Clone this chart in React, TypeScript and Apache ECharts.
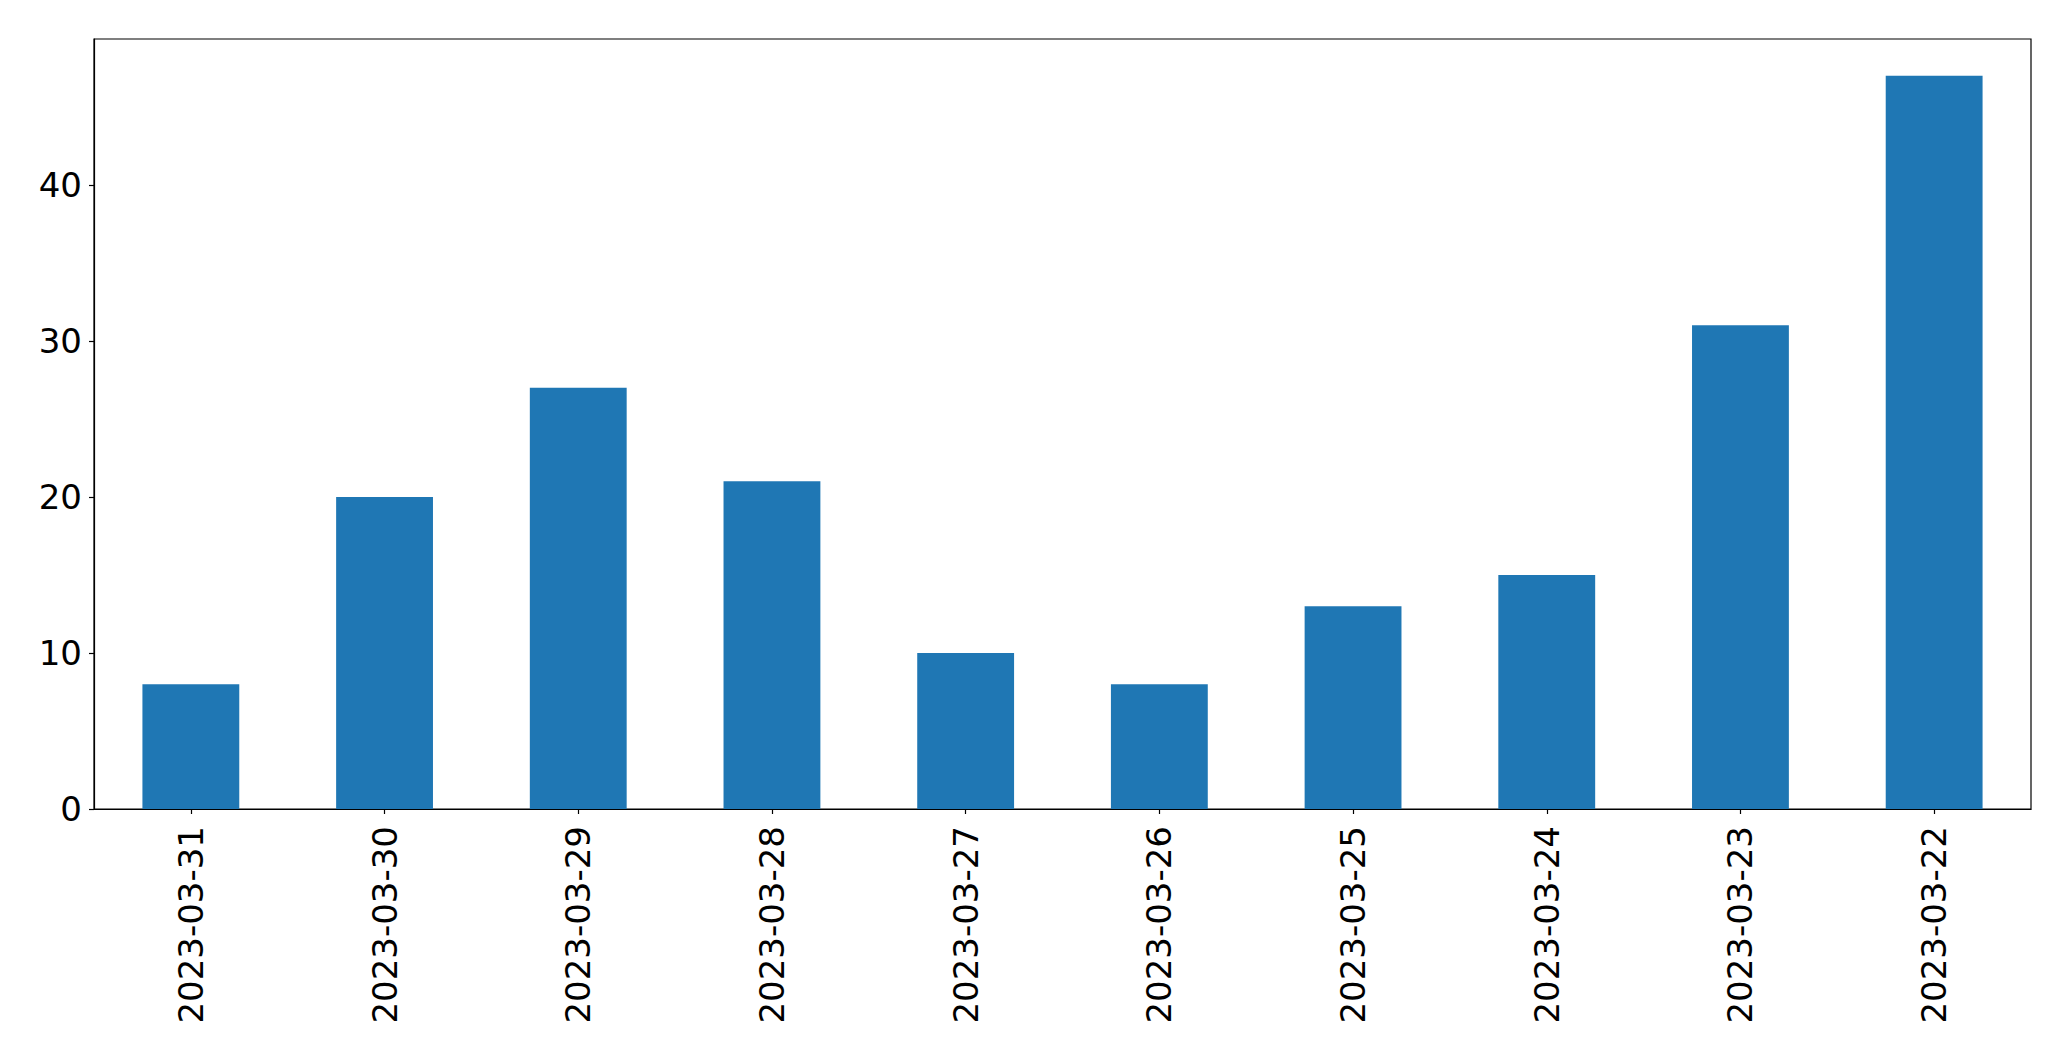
import React, { useEffect, useRef } from "react";
import * as echarts from "echarts";

const categories = [
  "2023-03-31",
  "2023-03-30",
  "2023-03-29",
  "2023-03-28",
  "2023-03-27",
  "2023-03-26",
  "2023-03-25",
  "2023-03-24",
  "2023-03-23",
  "2023-03-22",
];
const values = [8, 20, 27, 21, 10, 8, 13, 15, 31, 47];
const yTicks = [0, 10, 20, 30, 40];

export default function App() {
  const ref = useRef<HTMLDivElement>(null);
  useEffect(() => {
    document.body.style.margin = "0";
    const chart = echarts.init(ref.current!, null, { renderer: "svg" });
    const font = "DejaVu Sans";
    chart.setOption({
      animation: false,
      backgroundColor: "#ffffff",
      grid: {
        left: 94,
        top: 39,
        right: 40,
        bottom: 252,
        show: true,
        borderColor: "#000",
        borderWidth: 1.2,
        containLabel: false,
      },
      xAxis: {
        type: "category",
        data: categories,
        boundaryGap: true,
        axisLine: { show: true, lineStyle: { color: "#000", width: 1.2 } },
        axisTick: { show: true, alignWithLabel: true, length: 5, lineStyle: { color: "#000", width: 1.2 } },
        axisLabel: {
          rotate: 90,
          fontSize: 34,
          fontFamily: font,
          color: "#000",
          margin: 17,
          interval: 0,
        },
        splitLine: { show: false },
      },
      yAxis: {
        type: "value",
        min: 0,
        max: 49.35,
        interval: 10,
        axisLine: { show: true, lineStyle: { color: "#000", width: 1.2 } },
        axisTick: { show: true, length: 5, customValues: yTicks, lineStyle: { color: "#000", width: 1.2 } },
        axisLabel: {
          fontSize: 34,
          fontFamily: font,
          color: "#000",
          margin: 12,
          customValues: yTicks,
        },
        splitLine: { show: false },
      },
      series: [
        {
          type: "bar",
          data: values,
          barWidth: "50%",
          itemStyle: { color: "#1f77b4" },
        },
      ],
    });
    return () => chart.dispose();
  }, []);
  return <div ref={ref} style={{ width: 2071, height: 1061 }} />;
}
